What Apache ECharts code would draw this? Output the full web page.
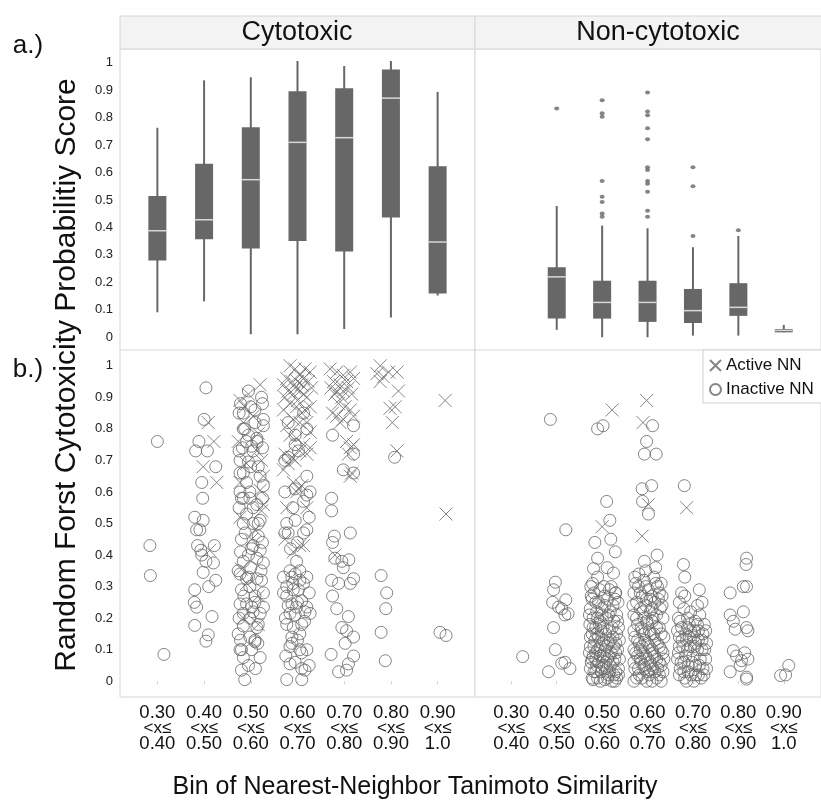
<!DOCTYPE html>
<html>
<head>
<meta charset="utf-8">
<script src="https://cdn.jsdelivr.net/npm/echarts@6/dist/echarts.min.js"></script>
<style>
  html, body { margin: 0; padding: 0; background: #fff; }
  #chart { width: 821px; height: 802px; }
</style>
</head>
<body>
<div id="chart"></div>
<script>
// bins of nearest-neighbour similarity (index 0..6 on the x axis)
const binLow = ['0.30', '0.40', '0.50', '0.60', '0.70', '0.80', '0.90']
const binHigh = ['0.40', '0.50', '0.60', '0.70', '0.80', '0.90', '1.0']
const binIndex = [0, 1, 2, 3, 4, 5, 6]
const yTicks = [0, 0.1, 0.2, 0.3, 0.4, 0.5, 0.6, 0.7, 0.8, 0.9, 1]

// box plots: [bin, whisker low, q1, median, q3, whisker high]
const cytoBoxes = [
  [0, 0.091, 0.280, 0.388, 0.515, 0.763],
  [1, 0.131, 0.357, 0.428, 0.632, 0.936],
  [2, 0.011, 0.323, 0.574, 0.765, 0.947],
  [3, 0.011, 0.351, 0.710, 0.896, 1.006],
  [4, 0.030, 0.312, 0.727, 0.907, 0.988],
  [5, 0.072, 0.436, 0.871, 0.975, 1.006],
  [6, 0.152, 0.159, 0.347, 0.623, 0.894]
]
const nonCytoBoxes = [
  [1, 0.027, 0.068, 0.220, 0.255, 0.478],
  [2, 0.000, 0.068, 0.127, 0.206, 0.407],
  [3, 0.000, 0.056, 0.127, 0.206, 0.397],
  [4, 0.006, 0.052, 0.097, 0.176, 0.328],
  [5, 0.006, 0.078, 0.109, 0.197, 0.369],
  [6, 0.018, 0.018, 0.025, 0.030, 0.045]
]
const nonCytoOutliers = [
  [1, 0.833],
  [2, 0.863], [2, 0.816], [2, 0.803], [2, 0.569], [2, 0.512], [2, 0.493], [2, 0.451], [2, 0.439],
  [3, 0.892], [3, 0.822], [3, 0.809], [3, 0.761], [3, 0.721], [3, 0.619], [3, 0.609], [3, 0.569],
  [3, 0.559], [3, 0.530], [3, 0.461], [3, 0.439],
  [4, 0.619], [4, 0.550], [4, 0.369],
  [5, 0.390]
]

// jittered scores: [bin + jitter, score]
const cytoActive = [
  [1.09, 0.82], [1.21, 0.76], [0.98, 0.68], [1.27, 0.63], [1.12, 0.415],
  [2.20, 0.94], [1.77, 0.89], [1.87, 0.87], [2.16, 0.785], [1.73, 0.76], [2.13, 0.73], [2.23, 0.70],
  [1.77, 0.63], [2.20, 0.605], [2.27, 0.56], [1.77, 0.52], [2.09, 0.48], [1.80, 0.355], [1.91, 0.31],
  [2.16, 0.27], [2.16, 0.18], [1.84, 0.20], [1.95, 0.91], [2.05, 0.84], [1.84, 0.82], [2.27, 0.65],
  [1.91, 0.69], [2.23, 0.54], [2.02, 0.45],
  [2.84, 1.0], [3.16, 0.99], [2.95, 0.99], [3.27, 0.98], [3.05, 0.97],
  [2.77, 0.96], [2.88, 0.95], [3.00, 0.95], [3.13, 0.96], [3.23, 0.95], [2.70, 0.94], [2.95, 0.93],
  [3.09, 0.94], [3.30, 0.93], [2.80, 0.92], [2.91, 0.91], [3.05, 0.92], [3.20, 0.90], [3.13, 0.91],
  [2.73, 0.90], [3.00, 0.89], [2.84, 0.88], [2.98, 0.87], [3.16, 0.86], [3.27, 0.87], [2.70, 0.86],
  [3.09, 0.85], [2.91, 0.83], [3.05, 0.82], [3.20, 0.82], [2.77, 0.81], [3.27, 0.79],
  [2.84, 0.78], [2.98, 0.77], [3.13, 0.75], [2.73, 0.72], [2.88, 0.71], [3.05, 0.73], [3.20, 0.72],
  [2.80, 0.69], [2.70, 0.67], [2.95, 0.70], [3.27, 0.74], [2.91, 0.63], [3.02, 0.61], [3.09, 0.62],
  [2.98, 0.60], [2.77, 0.55], [3.20, 0.55], [2.73, 0.45], [3.05, 0.43], [2.91, 0.41], [3.13, 0.43],
  [3.70, 0.99], [3.84, 0.98], [3.98, 0.97], [4.13, 0.98], [3.77, 0.95], [3.91, 0.94], [4.05, 0.95],
  [4.20, 0.96], [3.72, 0.93], [3.84, 0.92], [3.98, 0.92], [4.09, 0.93], [3.80, 0.91], [3.95, 0.90],
  [4.16, 0.91], [3.88, 0.88], [4.02, 0.87], [3.75, 0.85], [4.13, 0.86], [3.84, 0.84], [3.98, 0.83],
  [4.20, 0.84], [3.91, 0.82], [4.05, 0.76], [4.13, 0.74], [4.09, 0.72], [4.20, 0.75], [4.16, 0.66],
  [4.13, 0.65], [3.80, 0.40],
  [4.77, 1.0], [4.70, 0.975], [4.84, 0.965], [4.95, 0.98], [5.13, 0.98], [4.77, 0.95], [5.16, 0.92],
  [4.98, 0.865], [5.09, 0.87], [5.03, 0.82], [5.13, 0.73],
  [6.16, 0.89], [6.18, 0.53]
]
const cytoInactive = [
  [0.00, 0.76], [-0.16, 0.43], [-0.15, 0.335], [0.14, 0.085],
  [1.04, 0.93], [1.00, 0.83], [0.89, 0.76], [0.82, 0.73], [1.07, 0.73], [1.25, 0.68], [0.95, 0.63],
  [0.97, 0.58], [0.80, 0.52], [0.98, 0.51], [0.84, 0.48], [0.91, 0.48], [0.86, 0.43], [0.93, 0.415],
  [1.22, 0.43], [0.95, 0.40], [1.04, 0.38], [1.20, 0.375], [0.98, 0.345], [1.25, 0.32], [1.10, 0.30],
  [0.80, 0.29], [0.79, 0.25], [0.84, 0.235], [1.17, 0.205], [0.80, 0.177], [1.09, 0.147], [1.04, 0.127],
  [1.95, 0.92], [2.23, 0.90], [1.75, 0.85], [1.84, 0.85], [2.27, 0.83], [2.09, 0.82], [1.84, 0.80],
  [2.27, 0.81], [2.13, 0.76], [1.91, 0.76], [1.75, 0.73], [2.02, 0.745], [1.77, 0.70], [1.95, 0.695],
  [2.16, 0.68], [1.77, 0.66], [1.84, 0.66], [2.20, 0.65], [1.91, 0.63], [2.27, 0.62], [1.77, 0.60],
  [1.98, 0.60], [1.84, 0.58], [2.13, 0.56], [1.91, 0.53], [2.20, 0.51], [2.05, 0.50], [1.80, 0.45],
  [2.16, 0.46], [2.05, 0.43], [2.20, 0.415], [1.95, 0.40], [2.13, 0.39], [1.84, 0.38], [2.27, 0.375],
  [1.77, 0.34], [1.91, 0.325], [2.13, 0.325], [1.98, 0.30], [1.80, 0.29], [2.27, 0.28], [1.77, 0.245],
  [1.91, 0.245], [2.09, 0.25], [2.27, 0.235], [1.84, 0.215], [1.75, 0.20], [1.98, 0.20], [2.16, 0.18],
  [1.84, 0.175], [1.73, 0.15], [1.98, 0.14], [2.09, 0.125], [1.80, 0.10], [2.02, 0.10], [2.20, 0.075],
  [1.84, 0.075], [1.80, 0.035], [1.87, 0.005], [2.09, 0.86], [1.87, 0.80], [2.13, 0.77], [2.05, 0.73],
  [1.80, 0.58], [1.98, 0.58], [1.84, 0.50], [2.16, 0.50], [2.02, 0.42], [1.73, 0.35], [1.95, 0.33],
  [2.23, 0.32], [2.09, 0.27], [2.02, 0.235], [2.20, 0.215], [2.13, 0.17], [2.09, 0.13], [1.77, 0.10],
  [1.78, 0.88], [2.00, 0.87], [2.25, 0.88], [1.95, 0.78], [2.25, 0.74], [1.82, 0.74], [2.00, 0.68],
  [2.25, 0.58], [1.75, 0.55], [2.05, 0.55], [1.88, 0.47], [2.25, 0.44], [1.78, 0.41], [2.00, 0.36],
  [2.22, 0.35], [1.85, 0.27], [2.05, 0.22], [1.78, 0.13], [2.15, 0.12], [1.95, 0.05], [2.10, 0.04],
  [2.80, 0.82], [3.13, 0.85], [3.20, 0.80], [2.95, 0.78], [2.95, 0.75], [3.02, 0.73], [2.73, 0.70],
  [2.80, 0.71], [2.73, 0.60], [2.95, 0.61], [3.20, 0.65], [3.20, 0.59], [3.13, 0.57], [2.77, 0.50],
  [2.95, 0.51], [2.80, 0.47], [3.13, 0.47], [3.20, 0.48], [2.98, 0.38], [2.84, 0.35], [3.05, 0.35],
  [2.88, 0.33], [2.77, 0.30], [3.05, 0.32], [2.91, 0.29], [3.02, 0.29], [2.77, 0.27], [2.88, 0.245],
  [2.98, 0.235], [3.09, 0.255], [3.20, 0.235], [3.27, 0.215], [2.84, 0.215], [2.77, 0.18], [2.91, 0.17],
  [3.09, 0.18], [2.88, 0.14], [3.05, 0.15], [2.84, 0.11], [3.05, 0.10], [3.09, 0.09], [2.84, 0.055],
  [3.09, 0.04], [3.16, 0.035], [2.77, 0.005], [3.09, 0.005], [2.70, 0.28], [3.16, 0.22], [2.95, 0.34],
  [3.13, 0.31], [2.73, 0.47], [3.27, 0.60],
  [2.70, 0.33], [2.90, 0.31], [3.20, 0.33], [2.80, 0.24], [3.00, 0.25], [3.25, 0.28], [2.74, 0.20],
  [2.95, 0.21], [3.15, 0.19], [2.88, 0.12], [3.00, 0.13], [3.20, 0.10], [2.75, 0.08], [2.95, 0.06],
  [3.25, 0.05], [3.00, 0.44], [2.85, 0.42], [3.25, 0.52], [2.90, 0.55],
  [3.75, 0.78], [4.20, 0.81], [4.20, 0.72], [3.98, 0.67], [4.20, 0.66], [3.73, 0.58], [3.73, 0.54],
  [3.79, 0.46], [4.13, 0.47], [3.75, 0.44], [3.80, 0.39], [3.95, 0.38], [4.10, 0.385], [3.98, 0.36],
  [3.73, 0.32], [3.88, 0.31], [4.13, 0.31], [4.20, 0.325], [3.75, 0.27], [3.84, 0.23], [4.09, 0.205],
  [3.95, 0.17], [4.05, 0.16], [4.20, 0.14], [4.02, 0.12], [3.72, 0.085], [4.20, 0.08], [4.09, 0.055],
  [4.05, 0.035], [3.88, 0.03],
  [5.08, 0.71], [4.79, 0.335], [4.91, 0.28], [4.89, 0.23], [4.79, 0.155], [4.88, 0.065],
  [6.05, 0.155], [6.18, 0.145]
]
const nonCytoActive = [
  [2.22, 0.86], [2.00, 0.49], [2.98, 0.89], [2.90, 0.82], [3.02, 0.56], [2.88, 0.46], [3.86, 0.55]
]
const nonCytoInactive = [
  [0.25, 0.078],
  [0.86, 0.83], [1.20, 0.48], [0.97, 0.314], [0.93, 0.29], [1.20, 0.258], [0.91, 0.25], [1.04, 0.235],
  [1.11, 0.23], [1.25, 0.214], [1.18, 0.21], [0.93, 0.17], [0.97, 0.10], [1.18, 0.06], [1.11, 0.057],
  [1.29, 0.04], [0.82, 0.03],
  [1.90, 0.80], [2.02, 0.81], [2.10, 0.57], [2.17, 0.51], [1.84, 0.44], [2.19, 0.45], [2.29, 0.41],
  [1.90, 0.39], [1.81, 0.357], [2.11, 0.36], [2.25, 0.343], [1.90, 0.33], [1.79, 0.31], [2.04, 0.30],
  [2.29, 0.28],
  [1.75, 0.30], [1.95, 0.29], [2.20, 0.30], [1.82, 0.28], [2.05, 0.27], [2.30, 0.28], [1.78, 0.26],
  [1.92, 0.25], [2.12, 0.26], [2.35, 0.25], [1.74, 0.23], [1.88, 0.22], [2.00, 0.23], [2.18, 0.22],
  [2.32, 0.21], [1.80, 0.20], [1.96, 0.19], [2.10, 0.20], [2.26, 0.19], [1.73, 0.18], [1.86, 0.17],
  [2.02, 0.17], [2.16, 0.16], [2.36, 0.17], [1.78, 0.15], [1.92, 0.14], [2.08, 0.15], [2.24, 0.14],
  [1.84, 0.13], [2.00, 0.12], [2.14, 0.12], [2.30, 0.12], [1.74, 0.11], [1.90, 0.10], [2.06, 0.10],
  [2.20, 0.09], [2.34, 0.10], [1.80, 0.08], [1.96, 0.08], [2.12, 0.07], [2.28, 0.07], [1.76, 0.06],
  [1.88, 0.05], [2.04, 0.05], [2.18, 0.05], [2.36, 0.04], [1.82, 0.03], [1.98, 0.03], [2.14, 0.02],
  [2.26, 0.02], [1.90, 0.01], [2.06, 0.005], [2.22, 0.0], [1.78, 0.01], [2.32, 0.01], [1.94, 0.18],
  [2.24, 0.24], [1.86, 0.07], [2.10, 0.04], [2.00, 0.21],
  [1.76, 0.27], [2.16, 0.29], [2.28, 0.26], [1.86, 0.25], [2.06, 0.24], [1.72, 0.21], [1.90, 0.20],
  [2.14, 0.21], [2.34, 0.19], [1.80, 0.17], [1.98, 0.16], [2.22, 0.17], [2.32, 0.15], [1.74, 0.14],
  [1.88, 0.15], [2.04, 0.13], [2.18, 0.13], [2.38, 0.13], [1.82, 0.11], [1.96, 0.11], [2.10, 0.11],
  [2.26, 0.11], [1.72, 0.09], [1.86, 0.09], [2.02, 0.08], [2.16, 0.08], [2.30, 0.09], [1.78, 0.07],
  [1.92, 0.06], [2.08, 0.06], [2.24, 0.06], [2.38, 0.07], [1.74, 0.04], [1.86, 0.03], [2.00, 0.04],
  [2.16, 0.03], [2.30, 0.03], [1.80, 0.005], [1.96, 0.0], [2.12, 0.01], [2.28, 0.0], [2.36, 0.02],
  [3.11, 0.81], [2.98, 0.76], [2.93, 0.72], [3.19, 0.72], [2.88, 0.61], [3.09, 0.62], [2.89, 0.57],
  [3.02, 0.53], [3.21, 0.40], [2.93, 0.38], [3.18, 0.36], [2.81, 0.34], [2.96, 0.35],
  [2.72, 0.33], [2.92, 0.32], [3.14, 0.33], [3.30, 0.31], [2.80, 0.30], [3.02, 0.29], [3.22, 0.30],
  [2.70, 0.28], [2.88, 0.27], [3.10, 0.27], [3.32, 0.27], [2.76, 0.25], [2.96, 0.24], [3.16, 0.25],
  [2.84, 0.23], [3.06, 0.22], [3.28, 0.23], [2.70, 0.21], [2.92, 0.20], [3.12, 0.20], [3.34, 0.20],
  [2.78, 0.18], [3.00, 0.18], [3.20, 0.17], [2.88, 0.16], [3.08, 0.15], [3.30, 0.15], [2.72, 0.14],
  [2.94, 0.13], [3.16, 0.13], [2.82, 0.12], [3.04, 0.11], [3.26, 0.11], [2.70, 0.10], [2.90, 0.09],
  [3.12, 0.09], [3.34, 0.09], [2.78, 0.08], [3.00, 0.07], [3.20, 0.07], [2.86, 0.06], [3.08, 0.05],
  [3.30, 0.05], [2.72, 0.04], [2.94, 0.04], [3.16, 0.03], [2.82, 0.02], [3.04, 0.02], [3.26, 0.02],
  [2.76, 0.01], [2.98, 0.0], [3.20, 0.01], [3.10, 0.19], [2.84, 0.10], [3.24, 0.26], [2.98, 0.26],
  [2.74, 0.31], [2.96, 0.30], [3.18, 0.31], [2.84, 0.28], [3.06, 0.26], [3.26, 0.28], [2.68, 0.24],
  [2.90, 0.22], [3.10, 0.23], [3.32, 0.24], [2.76, 0.20], [2.98, 0.19], [3.20, 0.21], [2.86, 0.17],
  [3.04, 0.16], [3.26, 0.17], [2.70, 0.16], [2.92, 0.15], [3.14, 0.15], [3.36, 0.14], [2.78, 0.13],
  [3.00, 0.12], [3.22, 0.12], [2.88, 0.11], [3.10, 0.10], [3.30, 0.10], [2.74, 0.09], [2.96, 0.08],
  [3.16, 0.08], [3.36, 0.07], [2.84, 0.07], [3.06, 0.06], [3.26, 0.06], [2.70, 0.06], [2.92, 0.05],
  [3.12, 0.04], [3.34, 0.03], [2.80, 0.04], [3.00, 0.03], [3.22, 0.04], [2.88, 0.01], [3.10, 0.0],
  [3.30, 0.0], [2.70, 0.0],
  [3.81, 0.62], [3.79, 0.37], [3.82, 0.33], [4.14, 0.29], [3.75, 0.28], [3.82, 0.27],
  [3.70, 0.25], [4.10, 0.24], [4.20, 0.25], [3.80, 0.23], [3.95, 0.22], [4.15, 0.21], [3.68, 0.20],
  [3.88, 0.20], [4.05, 0.19], [4.25, 0.18], [3.75, 0.17], [3.95, 0.16], [4.12, 0.16], [3.70, 0.14],
  [3.86, 0.13], [4.02, 0.14], [4.20, 0.13], [3.78, 0.11], [3.94, 0.11], [4.10, 0.10], [4.26, 0.10],
  [3.68, 0.09], [3.84, 0.08], [4.00, 0.08], [4.16, 0.07], [3.74, 0.06], [3.90, 0.05], [4.06, 0.05],
  [4.22, 0.04], [3.80, 0.03], [3.96, 0.02], [4.12, 0.02], [3.70, 0.02], [4.28, 0.07], [3.88, 0.17],
  [4.04, 0.11], [3.82, 0.01], [4.18, 0.01],
  [3.72, 0.19], [3.92, 0.18], [4.10, 0.18], [4.28, 0.16], [3.66, 0.16], [3.84, 0.15], [4.04, 0.16],
  [4.22, 0.15], [3.76, 0.13], [3.92, 0.14], [4.12, 0.13], [4.30, 0.12], [3.70, 0.11], [3.88, 0.10],
  [4.06, 0.12], [4.20, 0.10], [3.66, 0.07], [3.80, 0.06], [3.98, 0.06], [4.14, 0.05], [4.30, 0.04],
  [3.72, 0.04], [3.90, 0.03], [4.06, 0.02], [4.24, 0.02], [3.86, 0.0], [4.02, 0.0],
  [5.18, 0.39], [5.17, 0.37], [4.82, 0.28], [5.11, 0.30], [5.18, 0.30], [5.11, 0.22], [4.82, 0.21],
  [4.89, 0.19], [5.18, 0.17], [5.21, 0.16], [4.93, 0.165], [4.89, 0.097], [4.96, 0.08], [5.14, 0.09],
  [5.21, 0.07], [5.07, 0.065], [4.82, 0.03], [5.18, 0.013], [5.18, 0.007], [5.04, 0.05],
  [6.11, 0.05], [5.93, 0.018], [6.04, 0.02]
]

const FONT = "'Liberation Sans', Arial, sans-serif"
const BOX_COLOR = '#676767'
const MARK_COLOR = '#666666'
const FRAME_COLOR = '#d6d6d6'
const BOX_WIDTH = 18
const CROSS = 'path://M0,0L10,10M10,0L0,10'

function renderBox (params, api) {
  const x = api.value(0)
  const low = api.coord([x, api.value(1)])
  const q1 = api.coord([x, api.value(2)])
  const med = api.coord([x, api.value(3)])
  const q3 = api.coord([x, api.value(4)])
  const high = api.coord([x, api.value(5)])
  const half = BOX_WIDTH / 2
  return {
    type: 'group',
    children: [
      { type: 'line', shape: { x1: high[0], y1: high[1], x2: low[0], y2: low[1] }, style: { stroke: BOX_COLOR, lineWidth: 2 } },
      { type: 'rect', shape: { x: q3[0] - half, y: q3[1], width: BOX_WIDTH, height: Math.max(q1[1] - q3[1], 1) }, style: { fill: BOX_COLOR } },
      { type: 'line', shape: { x1: med[0] - half, y1: med[1], x2: med[0] + half, y2: med[1] }, style: { stroke: '#d8d8d8', lineWidth: 1.5 } }
    ]
  }
}

// grids: 0 top-left, 1 top-right, 2 bottom-left, 3 bottom-right
const grids = [
  { left: 120, top: 49, width: 355, height: 302 },
  { left: 475, top: 49, width: 356, height: 302 },
  { left: 120, top: 350, width: 355, height: 347 },
  { left: 475, top: 350, width: 356, height: 347 }
].map(g => ({ ...g, show: true, borderColor: FRAME_COLOR, borderWidth: 1, backgroundColor: '#fff' }))

const xAxis = grids.map((g, i) => ({
  type: 'value',
  gridIndex: i,
  min: -0.8,
  max: i % 2 === 0 ? 6.8 : 6.82,
  splitLine: { show: false },
  axisLine: { show: false },
  axisTick: {
    show: i >= 2,
    customValues: binIndex,
    length: 3,
    lineStyle: { color: '#cfcfcf' }
  },
  axisLabel: {
    show: i >= 2,
    customValues: binIndex,
    margin: 8,
    formatter: v => `{n|${binLow[v]}}\n{m|<x≤}\n{n|${binHigh[v]}}`,
    rich: {
      n: { fontSize: 18.5, lineHeight: 15.5, color: '#111', fontFamily: FONT },
      m: { fontSize: 17, lineHeight: 15.5, color: '#111', fontFamily: FONT }
    }
  }
}))

const yAxis = grids.map((g, i) => ({
  type: 'value',
  gridIndex: i,
  min: -0.05,
  max: 1.05,
  splitLine: { show: false },
  axisLine: { show: false },
  axisTick: { show: false },
  axisLabel: {
    show: i % 2 === 0,
    customValues: yTicks,
    margin: 7,
    fontSize: 13,
    color: '#222',
    fontFamily: FONT,
    formatter: v => String(+v.toFixed(1))
  }
}))

const scatter = (name, data, idx, active) => ({
  name,
  type: 'scatter',
  xAxisIndex: idx,
  yAxisIndex: idx,
  data,
  clip: false,
  symbol: active ? CROSS : 'circle',
  symbolSize: active ? 13 : 12,
  itemStyle: { color: 'rgba(0,0,0,0)', borderColor: MARK_COLOR, borderWidth: 1 },
  emphasis: { disabled: true }
})

const option = {
  animation: false,
  textStyle: { fontFamily: FONT },
  grid: grids,
  xAxis,
  yAxis,
  legend: {
    left: 703,
    top: 350,
    orient: 'vertical',
    data: ['Active NN', 'Inactive NN'],
    backgroundColor: '#fff',
    borderColor: '#cfcfcf',
    borderWidth: 1,
    borderRadius: 0,
    padding: [7, 10, 5, 6],
    itemGap: 7,
    itemWidth: 11,
    itemHeight: 11,
    textStyle: { fontSize: 17, color: '#111', fontFamily: FONT }
  },
  graphic: [
    { type: 'rect', shape: { x: 120, y: 16, width: 355, height: 33 }, style: { fill: '#f3f3f3', stroke: FRAME_COLOR, lineWidth: 1 } },
    { type: 'rect', shape: { x: 475, y: 16, width: 360, height: 33 }, style: { fill: '#f3f3f3', stroke: FRAME_COLOR, lineWidth: 1 } },
    { type: 'text', x: 297, y: 33, style: { text: 'Cytotoxic', font: `27px ${FONT}`, fill: '#111', align: 'center', verticalAlign: 'middle', textAlign: 'center', textVerticalAlign: 'middle' } },
    { type: 'text', x: 658, y: 33, style: { text: 'Non-cytotoxic', font: `27px ${FONT}`, fill: '#111', align: 'center', verticalAlign: 'middle', textAlign: 'center', textVerticalAlign: 'middle' } },
    { type: 'text', x: 28, y: 46, style: { text: 'a.)', font: `26px ${FONT}`, fill: '#111', align: 'center', verticalAlign: 'middle', textAlign: 'center', textVerticalAlign: 'middle' } },
    { type: 'text', x: 28, y: 370, style: { text: 'b.)', font: `26px ${FONT}`, fill: '#111', align: 'center', verticalAlign: 'middle', textAlign: 'center', textVerticalAlign: 'middle' } },
    { type: 'text', x: 67, y: 375, rotation: Math.PI / 2, style: { text: 'Random Forst Cytotoxicity Probabilitiy Score', font: `30px ${FONT}`, fill: '#111', align: 'center', verticalAlign: 'middle', textAlign: 'center', textVerticalAlign: 'middle' } },
    { type: 'text', x: 415, y: 787, style: { text: 'Bin of Nearest-Neighbor Tanimoto Similarity', font: `25px ${FONT}`, fill: '#111', align: 'center', verticalAlign: 'middle', textAlign: 'center', textVerticalAlign: 'middle' } }
  ],
  series: [
    { type: 'custom', name: 'cyto box', xAxisIndex: 0, yAxisIndex: 0, renderItem: renderBox, data: cytoBoxes, encode: { x: 0, y: [1, 2, 3, 4, 5] } },
    { type: 'custom', name: 'noncyto box', xAxisIndex: 1, yAxisIndex: 1, renderItem: renderBox, data: nonCytoBoxes, encode: { x: 0, y: [1, 2, 3, 4, 5] } },
    {
      type: 'scatter',
      name: 'outliers',
      xAxisIndex: 1,
      yAxisIndex: 1,
      data: nonCytoOutliers,
      symbol: 'circle',
      symbolSize: [5, 4],
      itemStyle: { color: BOX_COLOR }
    },
    scatter('Inactive NN', cytoInactive, 2, false),
    scatter('Active NN', cytoActive, 2, true),
    scatter('Inactive NN', nonCytoInactive, 3, false),
    scatter('Active NN', nonCytoActive, 3, true)
  ]
}

const myChart = echarts.init(document.getElementById('chart'), null, { renderer: 'canvas' })
myChart.setOption(option)
</script>
</body>
</html>
